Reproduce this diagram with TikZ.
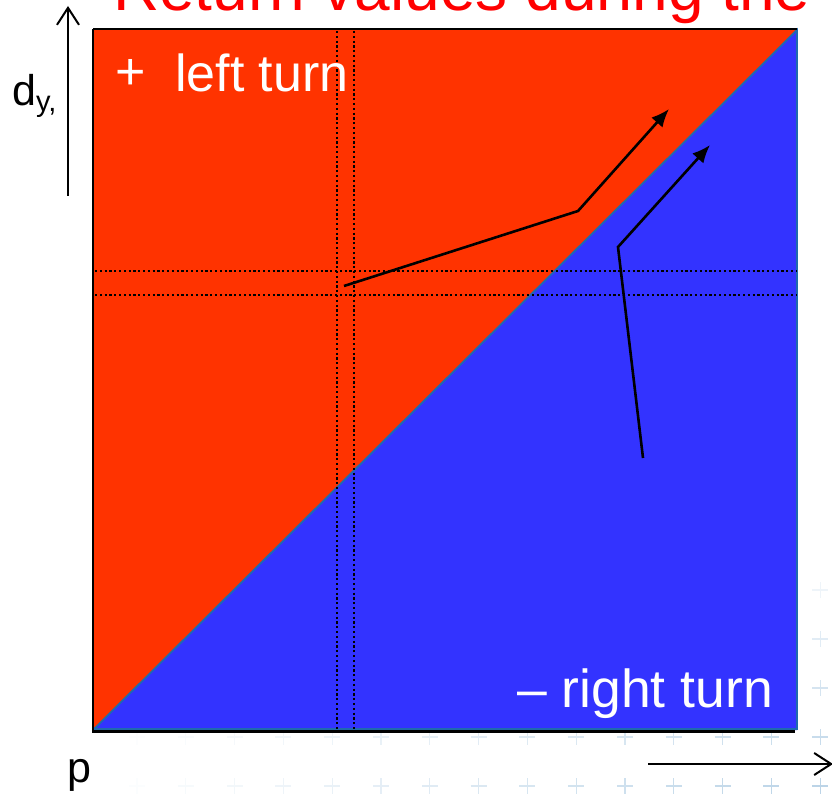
\documentclass[tikz,border=0pt]{standalone}
\usepackage{fontspec}
\setmainfont{Liberation Sans}
\usetikzlibrary{arrows.meta}
\definecolor{redfill}{HTML}{FF3300}
\definecolor{bluefill}{HTML}{3333FF}
\definecolor{edgeblue}{HTML}{1F6AAF}
\definecolor{titlered}{HTML}{FF0000}
\definecolor{plusblue}{HTML}{9CC0DC}
\begin{document}
\begin{tikzpicture}[x=1pt,y=-1pt,
  lbl/.style={inner sep=0pt, anchor=base west},
  dotline/.style={line width=2.2pt, dash pattern=on 2.2pt off 2.6pt},
  track/.style={line width=2.6pt, -{Latex[length=18pt,width=15pt]}},
  axisarrow/.style={line width=2pt, -{Straight Barb[length=17pt,width=22pt]}},
  plusmark/.style={line width=1.2pt}]
\useasboundingbox (0,0) rectangle (832,794);
% background plus pattern
\foreach \i in {0,...,14}{
  \foreach \j in {0,...,4}{
    \pgfmathsetmacro{\px}{137+48.8*\i}
    \pgfmathsetmacro{\py}{590+49*\j}
    \pgfmathsetmacro{\op}{(0.05+0.8*\i/14)*(0.2+0.6*\j/4)}
    \draw[plusmark, plusblue, opacity=\op] (\px-8,\py) -- (\px+8,\py) (\px,\py-8) -- (\px,\py+8);
  }
}
% regions
\fill[redfill] (93,30) -- (797,30) -- (93,730) -- cycle;
\fill[bluefill] (93,730) -- (797,30) -- (797,730) -- cycle;
\draw[edgeblue, line width=1.8pt] (93,730) -- (797,30) -- (797,729) -- (93,729);
% black frame
\draw[black, line width=2.8pt] (93,29) -- (797,29);
\draw[black, line width=2.8pt] (93,29) -- (93,731);
\draw[black, line width=2.6pt] (92,731.5) -- (795,731.5);
% dotted guides
\draw[dotline] (337,31) -- (337,729);
\draw[dotline] (354,31) -- (354,729);
\draw[dotline] (95,271) -- (797,271);
\draw[dotline] (95,295) -- (797,295);
% tracks
\coordinate (a0) at (344,286);
\coordinate (a1) at (578,211);
\coordinate (a2) at (669,109);
\coordinate (b0) at (643,458);
\coordinate (b1) at (618,247);
\coordinate (b2) at (710,145);
\draw[track] (a0) -- (a1) -- (a2);
\draw[track] (b0) -- (b1) -- (b2);
% axes
\coordinate (ya) at (68,196);
\coordinate (yb) at (68,6);
\draw[axisarrow] (ya) -- (yb);
\coordinate (xa) at (648,764);
\coordinate (xb) at (833,764);
\draw[axisarrow] (xa) -- (xb);
% texts
\node[lbl, text=titlered, font=\fontsize{64}{64}\selectfont] (title) at (113,11) {Return values during the};
\node[lbl, text=white, font=\fontsize{52}{52}\selectfont] (plus) at (115,90) {+};
\node[lbl, text=white, font=\fontsize{52}{52}\selectfont] (left) at (175,92) {left turn};
\node[lbl, text=white, font=\fontsize{53.5}{53.5}\selectfont] (right) at (517,707) {\textendash\ right turn};
\node[lbl, font=\fontsize{43}{43}\selectfont] (dy) at (12,106) {d\raisebox{-6pt}{\fontsize{29}{29}\selectfont y,}};
\node[lbl, font=\fontsize{43}{43}\selectfont] (p) at (67,782) {p};
\end{tikzpicture}
\end{document}
